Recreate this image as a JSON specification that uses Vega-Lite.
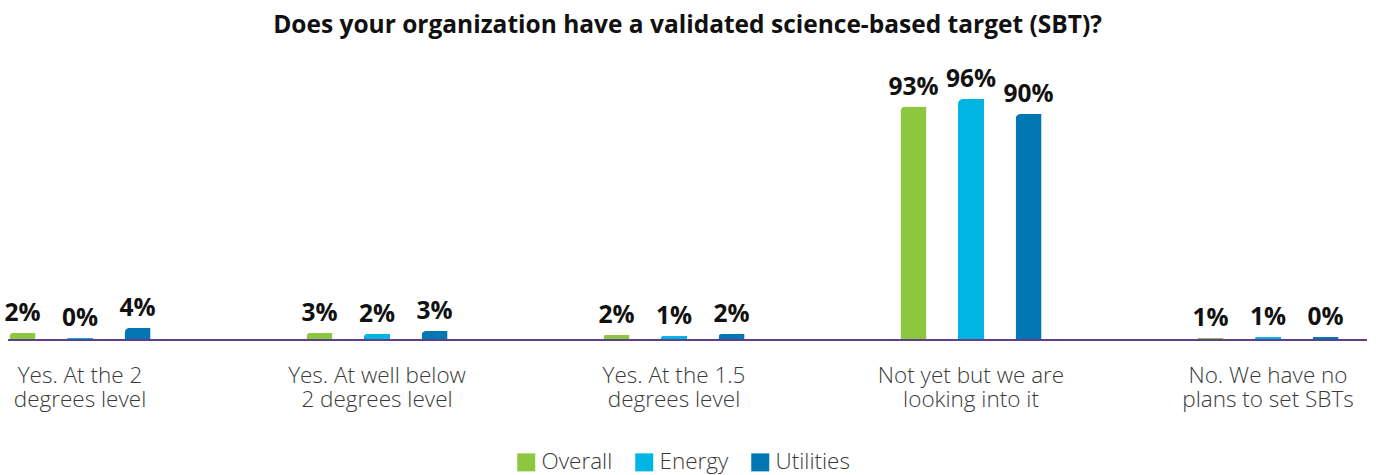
{
  "$schema": "https://vega.github.io/schema/vega-lite/v6.json",
  "autosize": {"type": "none"},
  "width": 1359,
  "height": 251,
  "padding": {"left": 8, "top": 89, "right": 14, "bottom": 135},
  "background": "white",
  "config": {
    "view": {"stroke": null},
    "font": "Open Sans"
  },
  "title": {
    "text": "Does your organization have a validated science-based target (SBT)?",
    "font": "Open Sans",
    "fontSize": 24.5,
    "fontWeight": "bold",
    "color": "#111111",
    "anchor": "middle",
    "frame": "group",
    "offset": 29
  },
  "data": {
    "values": [
      {"category": "Yes. At the 2 degrees level", "series": "Overall", "value": 2.8, "label": "2%"},
      {"category": "Yes. At the 2 degrees level", "series": "Energy", "value": 0.8, "label": "0%"},
      {"category": "Yes. At the 2 degrees level", "series": "Utilities", "value": 4.8, "label": "4%"},
      {"category": "Yes. At well below 2 degrees level", "series": "Overall", "value": 2.8, "label": "3%"},
      {"category": "Yes. At well below 2 degrees level", "series": "Energy", "value": 2.4, "label": "2%"},
      {"category": "Yes. At well below 2 degrees level", "series": "Utilities", "value": 3.6, "label": "3%"},
      {"category": "Yes. At the 1.5 degrees level", "series": "Overall", "value": 2.0, "label": "2%"},
      {"category": "Yes. At the 1.5 degrees level", "series": "Energy", "value": 1.6, "label": "1%"},
      {"category": "Yes. At the 1.5 degrees level", "series": "Utilities", "value": 2.4, "label": "2%"},
      {"category": "Not yet but we are looking into it", "series": "Overall", "value": 93, "label": "93%"},
      {"category": "Not yet but we are looking into it", "series": "Energy", "value": 96, "label": "96%"},
      {"category": "Not yet but we are looking into it", "series": "Utilities", "value": 90, "label": "90%"},
      {"category": "No. We have no plans to set SBTs", "series": "Overall", "value": 0.8, "label": "1%"},
      {"category": "No. We have no plans to set SBTs", "series": "Energy", "value": 1.2, "label": "1%"},
      {"category": "No. We have no plans to set SBTs", "series": "Utilities", "value": 1.2, "label": "0%"}
    ]
  },
  "layer": [
    {
      "mark": {"type": "bar", "cornerRadiusTopLeft": 5},
      "encoding": {
        "x": {
          "field": "category",
          "type": "nominal",
          "sort": null,
          "scale": {"range": [-76.5, 1408.5], "paddingInner": 0.525, "paddingOuter": 0.2625},
          "axis": {
            "title": null,
            "domain": false,
            "ticks": false,
            "labelAngle": 0,
            "labelPadding": 24,
            "labelFont": "Open Sans",
            "labelFontSize": 22.5,
            "labelFontWeight": 300,
            "labelColor": "#3a3a3a",
            "labelLineHeight": 24,
            "labelLimit": 400,
            "labelBaseline": "top",
            "labelExpr": "datum.value == 'Yes. At the 2 degrees level' ? ['Yes. At the 2', 'degrees level'] : datum.value == 'Yes. At well below 2 degrees level' ? ['Yes. At well below', '2 degrees level'] : datum.value == 'Yes. At the 1.5 degrees level' ? ['Yes. At the 1.5', 'degrees level'] : datum.value == 'Not yet but we are looking into it' ? ['Not yet but we are', 'looking into it'] : ['No. We have no', 'plans to set SBTs']"
          }
        },
        "xOffset": {
          "field": "series",
          "type": "nominal",
          "sort": ["Overall", "Energy", "Utilities"],
          "scale": {"paddingInner": 0.548, "paddingOuter": 0}
        },
        "y": {
          "field": "value",
          "type": "quantitative",
          "scale": {"domain": [0, 100], "nice": false},
          "axis": null
        },
        "color": {
          "field": "series",
          "type": "nominal",
          "sort": ["Overall", "Energy", "Utilities"],
          "scale": {"domain": ["Overall", "Energy", "Utilities"], "range": ["#8DC63F", "#00B5E2", "#0077B3"]},
          "legend": {
            "title": null,
            "orient": "none",
            "direction": "horizontal",
            "legendX": 507,
            "legendY": 362,
            "symbolType": "square",
            "symbolSize": 324,
            "symbolStrokeWidth": 0,
            "labelFont": "Open Sans",
            "labelFontSize": 22.5,
            "labelFontWeight": 300,
            "labelColor": "#3a3a3a",
            "labelOffset": 4,
            "columnPadding": 20
          }
        }
      }
    },
    {
      "mark": {"type": "text", "baseline": "alphabetic", "dy": -12, "font": "Open Sans", "fontSize": 24.5, "fontWeight": "bold", "color": "#111111"},
      "encoding": {
        "x": {"field": "category", "type": "nominal", "sort": null},
        "xOffset": {"field": "series", "type": "nominal", "sort": ["Overall", "Energy", "Utilities"]},
        "y": {"field": "value", "type": "quantitative"},
        "text": {"field": "label"}
      }
    },
    {
      "mark": {"type": "rule", "color": "#5E3F8C", "strokeWidth": 2},
      "encoding": {"y": {"datum": 0}}
    }
  ]
}
